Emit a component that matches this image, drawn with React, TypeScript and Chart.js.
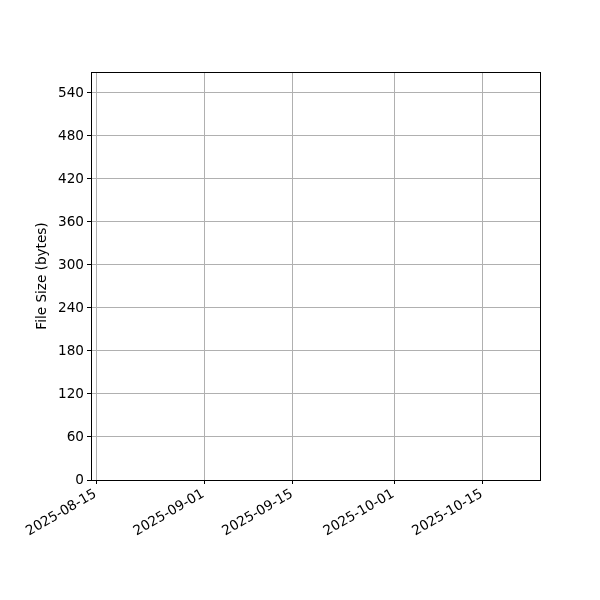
import { useEffect, useRef } from "react";
import { Chart, registerables } from "chart.js";

Chart.register(...registerables);

// data (the plotted series is empty in the reference)
const dates: string[] = [];
const fileSizes: number[] = [];

// axis ticks
const xTickDates = ["2025-08-15", "2025-09-01", "2025-09-15", "2025-10-01", "2025-10-15"];
const yTicks = [0, 60, 120, 180, 240, 300, 360, 420, 480, 540];

// axis range
const xMinDate = "2025-08-14";
const yMax = 569.3;

const DAY = 86400000;
const toDay = (s: string) => Date.parse(s + "T00:00:00Z") / DAY;
const fromDay = (d: number) => new Date(Math.round(d) * DAY).toISOString().slice(0, 10);

const frame = {
  id: "frame",
  afterDraw(chart: any) {
    const { ctx, chartArea: a } = chart;
    ctx.save();
    ctx.strokeStyle = "#000";
    ctx.lineWidth = 1;
    ctx.strokeRect(Math.round(a.left) + 0.5, Math.round(a.top) + 0.5, Math.round(a.right - a.left), Math.round(a.bottom - a.top));
    ctx.restore();
  },
};

export default function App() {
  const ref = useRef<HTMLCanvasElement | null>(null);

  useEffect(() => {
    if (!ref.current) return;
    const font = { family: "'DejaVu Sans', sans-serif", size: 13.6 };

    const chart = new Chart(ref.current, {
      type: "line",
      data: {
        datasets: [
          {
            label: "File Size",
            data: dates.map((d, i) => ({ x: toDay(d), y: fileSizes[i] })),
            borderColor: "#1f77b4",
            backgroundColor: "#1f77b4",
          },
        ],
      },
      options: {
        animation: false,
        responsive: false,
        layout: { padding: { top: 72, right: 60, left: 0, bottom: 0 } },
        plugins: { legend: { display: false }, tooltip: { enabled: false } },
        scales: {
          x: {
            type: "linear",
            min: toDay(xMinDate) + 0.12,
            max: toDay(xMinDate) + 71.03,
            afterBuildTicks: (s: any) => {
              s.ticks = xTickDates.map((d) => ({ value: toDay(d) }));
            },
            afterFit: (s: any) => {
              s.height = 120;
            },
            grid: { color: "#b0b0b0", tickColor: "#000", tickLength: 4, lineWidth: 1 },
            border: { color: "#000" },
            ticks: {
              color: "#000",
              font,
              padding: 2,
              labelOffset: -1,
              minRotation: 30,
              maxRotation: 30,
              autoSkip: false,
              callback: (v: any) => fromDay(Number(v)),
            },
          },
          y: {
            min: 0,
            max: yMax,
            afterBuildTicks: (s: any) => {
              s.ticks = yTicks.map((v) => ({ value: v }));
            },
            afterFit: (s: any) => {
              s.width = 91;
            },
            grid: { color: "#b0b0b0", tickColor: "#000", tickLength: 4, lineWidth: 1 },
            border: { color: "#000" },
            ticks: { color: "#000", font, padding: 3 },
            title: {
              display: true,
              text: "File Size (bytes)",
              color: "#000",
              font,
              padding: { top: 34, bottom: 0 },
            },
          },
        },
      },
      plugins: [frame],
    });
    return () => chart.destroy();
  }, []);

  return (
    <div style={{ position: "absolute", left: 0, top: 0, width: 600, height: 600, background: "#fff" }}>
      <canvas ref={ref} width={600} height={600} />
    </div>
  );
}
